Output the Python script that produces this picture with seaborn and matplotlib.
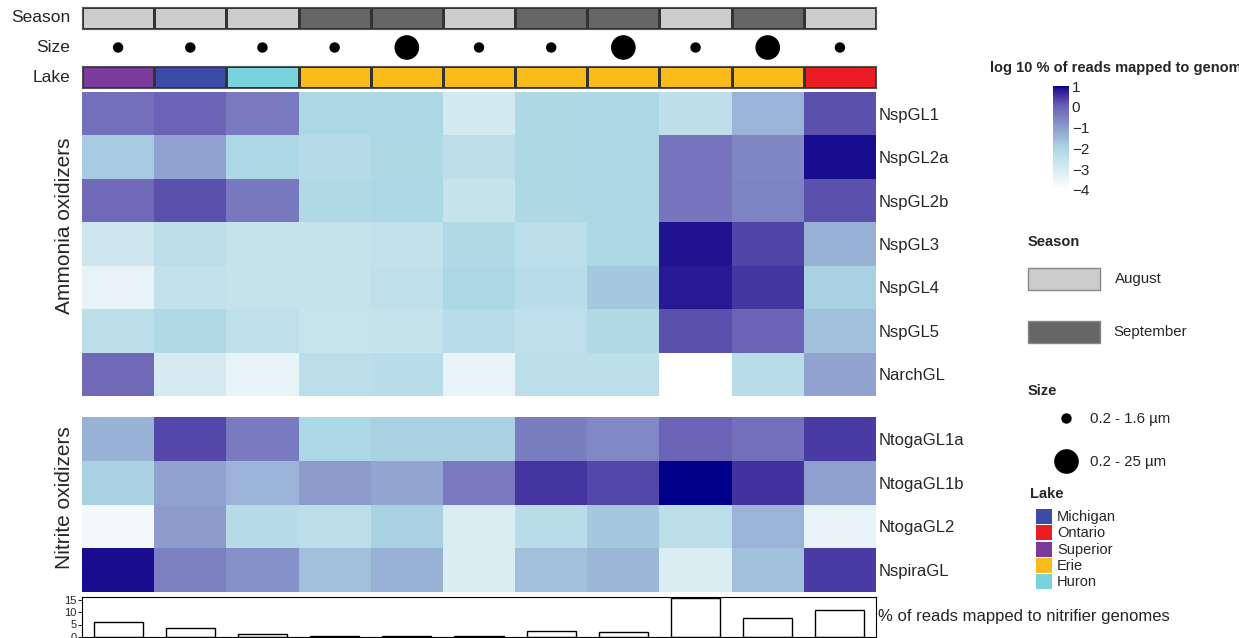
import numpy as np
import pandas as pd
import matplotlib
matplotlib.use("Agg")
import matplotlib.pyplot as plt
import seaborn as sns
from matplotlib.colors import ListedColormap, to_rgb
from matplotlib.patches import Rectangle

# --- data ---
samples = [f"S{i}" for i in range(1, 12)]
season = ["August", "August", "August", "September", "September", "August",
          "September", "September", "August", "September", "August"]
size = ["0.2 - 1.6 µm", "0.2 - 1.6 µm", "0.2 - 1.6 µm", "0.2 - 1.6 µm", "0.2 - 25 µm",
        "0.2 - 1.6 µm", "0.2 - 1.6 µm", "0.2 - 25 µm", "0.2 - 1.6 µm", "0.2 - 25 µm",
        "0.2 - 1.6 µm"]
lake = ["Superior", "Michigan", "Huron", "Erie", "Erie", "Erie",
        "Erie", "Erie", "Erie", "Erie", "Ontario"]

ammonia_rows = ["NspGL1", "NspGL2a", "NspGL2b", "NspGL3", "NspGL4", "NspGL5", "NarchGL"]
ammonia_vals = [
    [-0.2, 0.0, -0.4, -2.0, -2.0, -2.9, -2.05, -2.0, -2.4, -1.4, 0.2],
    [-1.8, -1.1, -2.0, -2.2, -2.05, -2.4, -2.05, -2.0, -0.3, -0.6, 0.9],
    [-0.1, 0.2, -0.35, -2.1, -2.0, -2.6, -2.05, -2.0, -0.3, -0.55, 0.2],
    [-2.8, -2.35, -2.6, -2.6, -2.5, -2.1, -2.35, -2.0, 0.85, 0.35, -1.35],
    [-3.4, -2.5, -2.6, -2.6, -2.45, -2.0, -2.3, -1.75, 0.8, 0.5, -1.9],
    [-2.35, -2.1, -2.45, -2.65, -2.6, -2.3, -2.45, -2.1, 0.2, 0.0, -1.6],
    [-0.1, -2.95, -3.4, -2.35, -2.3, -3.4, -2.35, -2.35, -4.0, -2.3, -1.1],
]
nitrite_rows = ["NtogaGL1a", "NtogaGL1b", "NtogaGL2", "NspiraGL"]
nitrite_vals = [
    [-1.35, 0.3, -0.4, -2.0, -1.9, -1.9, -0.45, -0.65, 0.0, -0.2, 0.45],
    [-1.9, -1.1, -1.4, -1.0, -1.15, -0.4, 0.5, 0.3, 1.0, 0.55, -1.05],
    [-3.7, -1.0, -2.25, -2.35, -1.9, -3.1, -2.3, -1.75, -2.35, -1.4, -3.4],
    [0.9, -0.5, -0.8, -1.6, -1.35, -3.1, -1.6, -1.45, -3.1, -1.6, 0.45],
]
pct_mapped = [6.0, 3.8, 1.3, 0.3, 0.3, 0.4, 2.5, 2.0, 15.5, 7.5, 11.0]

season_colors = {"August": "#cccccc", "September": "#666666"}
lake_colors = {"Michigan": "#3b4ba8", "Ontario": "#eb1c24", "Superior": "#7b3b9c",
               "Erie": "#f9bc1a", "Huron": "#78d3dc"}
size_marker = {"0.2 - 1.6 µm": 42, "0.2 - 25 µm": 280}

# colour ramp breaks, interpolated in LAB space like ComplexHeatmap's colorRamp2
ramp_breaks = [-4, -2, 0, 1]
ramp_colors = ["#ffffff", "#acd7e4", "#6b64b6", "#00008b"]

W, H = 1239, 638
sns.set_style("white")
plt.rcParams["font.family"] = ["Liberation Sans", "DejaVu Sans"]


# --- LAB helpers ---
M = np.array([[0.4124, 0.3576, 0.1805], [0.2126, 0.7152, 0.0722], [0.0193, 0.1192, 0.9505]])
WHITE = M @ np.ones(3)


def rgb2lab(c):
    c = np.array(c)
    lin = np.where(c <= 0.04045, c / 12.92, ((c + 0.055) / 1.055) ** 2.4)
    xyz = (M @ lin) / WHITE
    f = np.where(xyz > 0.008856, np.cbrt(xyz), 7.787 * xyz + 16 / 116)
    return np.array([116 * f[1] - 16, 500 * (f[0] - f[1]), 200 * (f[1] - f[2])])


def lab2rgb(lab):
    L, a, b = lab
    fy = (L + 16) / 116
    f = np.array([fy + a / 500, fy, fy - b / 200])
    xyz = np.where(f ** 3 > 0.008856, f ** 3, (f - 16 / 116) / 7.787) * WHITE
    lin = np.clip(np.linalg.solve(M, xyz), 0, 1)
    c = np.where(lin <= 0.0031308, 12.92 * lin, 1.055 * lin ** (1 / 2.4) - 0.055)
    return np.clip(c, 0, 1)


labs = [rgb2lab(to_rgb(c)) for c in ramp_colors]
grid = np.linspace(ramp_breaks[0], ramp_breaks[-1], 256)
cmap_list = []
for v in grid:
    k = min(np.searchsorted(ramp_breaks, v, side="right") - 1, len(ramp_breaks) - 2)
    t = (v - ramp_breaks[k]) / (ramp_breaks[k + 1] - ramp_breaks[k])
    cmap_list.append(lab2rgb(labs[k] * (1 - t) + labs[k + 1] * t))
cmap = ListedColormap(cmap_list)


def px(x0, y0, x1, y1):
    return [x0 / W, 1 - y1 / H, (x1 - x0) / W, (y1 - y0) / H]


fig = plt.figure(figsize=(W / 100, H / 100), dpi=100)
X0, X1 = 82, 876


# --- annotation rows ---
def cat_row(ax, values, colors, label):
    cats = list(colors.keys())
    codes = pd.DataFrame([[cats.index(v) for v in values]], columns=samples)
    sns.heatmap(codes, ax=ax, cmap=ListedColormap([colors[c] for c in cats]),
                vmin=-0.5, vmax=len(cats) - 0.5, cbar=False,
                linewidths=0.8, linecolor="#333333")
    ax.set_xticks([]); ax.set_yticks([])
    ax.set_xlabel(""); ax.set_ylabel("")
    for s in ax.spines.values():
        s.set_visible(True); s.set_color("#555555"); s.set_linewidth(0.8)
    ax.text(-0.015, 0.5, label, transform=ax.transAxes, ha="right", va="center", fontsize=12.5)


ax_season = fig.add_axes(px(X0, 7, X1, 29))
cat_row(ax_season, season, season_colors, "Season")

ax_size = fig.add_axes(px(X0, 33, X1, 62))
ax_size.scatter(np.arange(11) + 0.5, [0.5] * 11, s=[size_marker[v] for v in size], color="black")
ax_size.set_xlim(0, 11); ax_size.set_ylim(0, 1)
ax_size.axis("off")
ax_size.text(-0.015, 0.5, "Size", transform=ax_size.transAxes, ha="right", va="center", fontsize=12.5)

ax_lake = fig.add_axes(px(X0, 66, X1, 88))
cat_row(ax_lake, lake, lake_colors, "Lake")


# --- heatmaps ---
def block(ax, vals, rows, title, label_y):
    df = pd.DataFrame(vals, index=rows, columns=samples)
    sns.heatmap(df, ax=ax, cmap=cmap, vmin=-4, vmax=1, cbar=False)
    ax.set_xticks([])
    ax.yaxis.tick_right()
    ax.set_yticklabels(rows, rotation=0, fontsize=12)
    ax.tick_params(axis="y", length=0, pad=2)
    ax.set_ylabel(title, fontsize=15)
    ax.yaxis.set_label_position("left")
    ax.yaxis.set_label_coords(-0.01, label_y)
    ax.set_xlabel("")


ax_amm = fig.add_axes(px(X0, 92, X1, 396))
block(ax_amm, ammonia_vals, ammonia_rows, "Ammonia oxidizers", 0.56)
ax_nit = fig.add_axes(px(X0, 417, X1, 592))
block(ax_nit, nitrite_vals, nitrite_rows, "Nitrite oxidizers", 0.54)

# --- bar annotation ---
ax_bar = fig.add_axes(px(X0, 597, X1, 637))
bars = pd.DataFrame({"sample": samples, "pct": pct_mapped})
sns.barplot(data=bars, x="sample", y="pct", ax=ax_bar, color="white",
            edgecolor="black", linewidth=1, width=0.68)
ax_bar.set_xlim(-0.5, 10.5); ax_bar.set_ylim(0, 16)
ax_bar.set_yticks([0, 5, 10, 15])
ax_bar.tick_params(axis="y", labelsize=8, length=3, pad=1, left=True)
ax_bar.set_xticks([]); ax_bar.set_xlabel(""); ax_bar.set_ylabel("")
for s in ax_bar.spines.values():
    s.set_visible(True); s.set_color("black"); s.set_linewidth(0.8)
ax_bar.text(1.003, 0.5, "% of reads mapped to nitrifier genomes", transform=ax_bar.transAxes,
            ha="left", va="center", fontsize=12)

# --- colorbar ---
ax_cb = fig.add_axes(px(1053, 86, 1069, 190))
cb = fig.colorbar(ax_amm.collections[0], cax=ax_cb)
cb.set_ticks([1, 0, -1, -2, -3, -4])
cb.set_ticklabels(["1", "0", "\u22121", "\u22122", "\u22123", "\u22124"])
cb.outline.set_visible(False)
ax_cb.tick_params(color="white", direction="in", length=3, labelsize=11, pad=2)

# --- legends drawn in pixel space ---
lg = fig.add_axes([0, 0, 1, 1], zorder=-1)
lg.set_xlim(0, W); lg.set_ylim(H, 0); lg.axis("off")
lg.text(990, 68, "log 10 % of reads mapped to genomes", fontsize=10.5, fontweight="bold",
        va="center", ha="left", clip_on=False)

lg.text(1028, 242, "Season", fontsize=10.5, fontweight="bold", va="center")
for i, (name, col) in enumerate(season_colors.items()):
    y = 268 + i * 53
    lg.add_patch(Rectangle((1028, y), 72, 22, facecolor=col, edgecolor="#888888", lw=1))
    lg.text(1115 if i == 0 else 1113, y + 11, name, fontsize=10.8, va="center")

lg.text(1028, 391, "Size", fontsize=10.5, fontweight="bold", va="center")
for i, (name, s) in enumerate(size_marker.items()):
    y = 418 + i * 43
    lg.scatter([1066], [y], s=s, color="black")
    lg.text(1090, y + 1, name, fontsize=10.8, va="center")

lg.text(1030, 494, "Lake", fontsize=10.5, fontweight="bold", va="center")
for i, (name, col) in enumerate(lake_colors.items()):
    y = 509 + i * 16.3
    lg.add_patch(Rectangle((1036, y), 16, 15, facecolor=col, edgecolor="none"))
    lg.text(1057, y + 8, name, fontsize=10.5, va="center")

fig.savefig("out.png", dpi=100)
